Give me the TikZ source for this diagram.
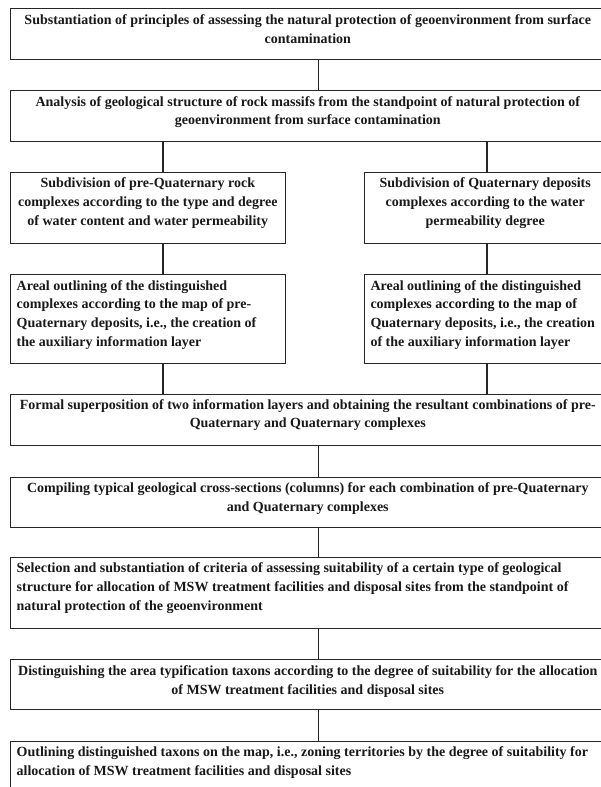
\documentclass[tikz,border=0pt]{standalone}
\usepackage{fontspec}
\setmainfont{Liberation Serif}
\begin{document}
\begin{tikzpicture}[x=1pt,y=-1pt,
  boxstyle/.style={draw=black!85, line width=1.1pt, rectangle, inner sep=0pt, anchor=north west},
  txt/.style={inner sep=0pt, font=\fontsize{14}{18.8}\selectfont\bfseries, text=black!90},
  ctxt/.style={txt, align=center, anchor=north},
  ltxt/.style={txt, align=left, anchor=north west},
  link/.style={draw=black!85, line width=1.1pt}]
\useasboundingbox[fill=white] (0,0) rectangle (600,787);
% boxes
\node[boxstyle, minimum width=595.5pt, minimum height=51pt] (b1) at (9.5,8.3) {};
\node[boxstyle, minimum width=595.5pt, minimum height=51pt] (b2) at (9.5,90) {};
\node[boxstyle, minimum width=275.5pt, minimum height=71pt] (b3l) at (9.5,171.7) {};
\node[boxstyle, minimum width=240.7pt, minimum height=71pt] (b3r) at (364.3,171.7) {};
\node[boxstyle, minimum width=275.5pt, minimum height=88.5pt] (b4l) at (9.5,274) {};
\node[boxstyle, minimum width=240.7pt, minimum height=88.5pt] (b4r) at (364.3,274) {};
\node[boxstyle, minimum width=595.5pt, minimum height=51pt] (b5) at (9.5,394) {};
\node[boxstyle, minimum width=595.5pt, minimum height=50pt] (b6) at (9.5,476.7) {};
\node[boxstyle, minimum width=595.5pt, minimum height=71pt] (b7) at (9.5,556.7) {};
\node[boxstyle, minimum width=595.5pt, minimum height=50pt] (b8) at (9.5,659.3) {};
\node[boxstyle, minimum width=595.5pt, minimum height=70pt] (b9) at (9.5,740.7) {};
% texts
\node[ctxt] (t1) at ([yshift=-6pt]b1.north) {Substantiation of principles of assessing the natural protection of geoenvironment from surface\\contamination};
\node[ctxt] (t2) at ([yshift=-6pt]b2.north) {Analysis of geological structure of rock massifs from the standpoint of natural protection of\\geoenvironment from surface contamination};
\node[ctxt] (t3l) at ([yshift=-6pt]b3l.north) {Subdivision of pre-Quaternary rock\\complexes according to the type and degree\\of water content and water permeability};
\node[ctxt] (t3r) at ([yshift=-6pt]b3r.north) {Subdivision of Quaternary deposits\\complexes according to the water\\permeability degree};
\node[ltxt] (t4l) at ([xshift=7pt,yshift=-6pt]b4l.north west) {Areal outlining of the distinguished\\complexes according to the map of pre-\\Quaternary deposits, i.e., the creation of\\the auxiliary information layer};
\node[ltxt] (t4r) at ([xshift=6pt,yshift=-6pt]b4r.north west) {Areal outlining of the distinguished\\complexes according to the map of\\Quaternary deposits, i.e., the creation\\of the auxiliary information layer};
\node[ctxt] (t5) at ([yshift=-5pt]b5.north) {Formal superposition of two information layers and obtaining the resultant combinations of pre-\\Quaternary and Quaternary complexes};
\node[ctxt] (t6) at ([yshift=-5.5pt]b6.north) {Compiling typical geological cross-sections (columns) for each combination of pre-Quaternary\\and Quaternary complexes};
\node[ltxt] (t7) at ([xshift=7pt,yshift=-6pt]b7.north west) {Selection and substantiation of criteria of assessing suitability of a certain type of geological\\structure for allocation of MSW treatment facilities and disposal sites from the standpoint of\\natural protection of the geoenvironment};
\node[ctxt] (t8) at ([yshift=-6pt]b8.north) {Distinguishing the area typification taxons according to the degree of suitability for the allocation\\of MSW treatment facilities and disposal sites};
\node[ltxt] (t9) at ([xshift=7pt,yshift=-6pt]b9.north west) {Outlining distinguished taxons on the map, i.e., zoning territories by the degree of suitability for\\allocation of MSW treatment facilities and disposal sites};
% connector columns
\coordinate (cm) at (318.8,0);
\coordinate (cl) at (163,0);
\coordinate (cr) at (487,0);
\draw[link] (b1.south -| cm) -- (b2.north -| cm);
\draw[link] (b2.south -| cl) -- (b3l.north -| cl);
\draw[link] (b2.south -| cr) -- (b3r.north -| cr);
\draw[link] (b3l.south -| cl) -- (b4l.north -| cl);
\draw[link] (b3r.south -| cr) -- (b4r.north -| cr);
\draw[link] (b4l.south -| cl) -- (b5.north -| cl);
\draw[link] (b4r.south -| cr) -- (b5.north -| cr);
\draw[link] (b5.south -| cm) -- (b6.north -| cm);
\draw[link] (b6.south -| cm) -- (b7.north -| cm);
\draw[link] (b7.south -| cm) -- (b8.north -| cm);
\draw[link] (b8.south -| cm) -- (b9.north -| cm);
\end{tikzpicture}
\end{document}
